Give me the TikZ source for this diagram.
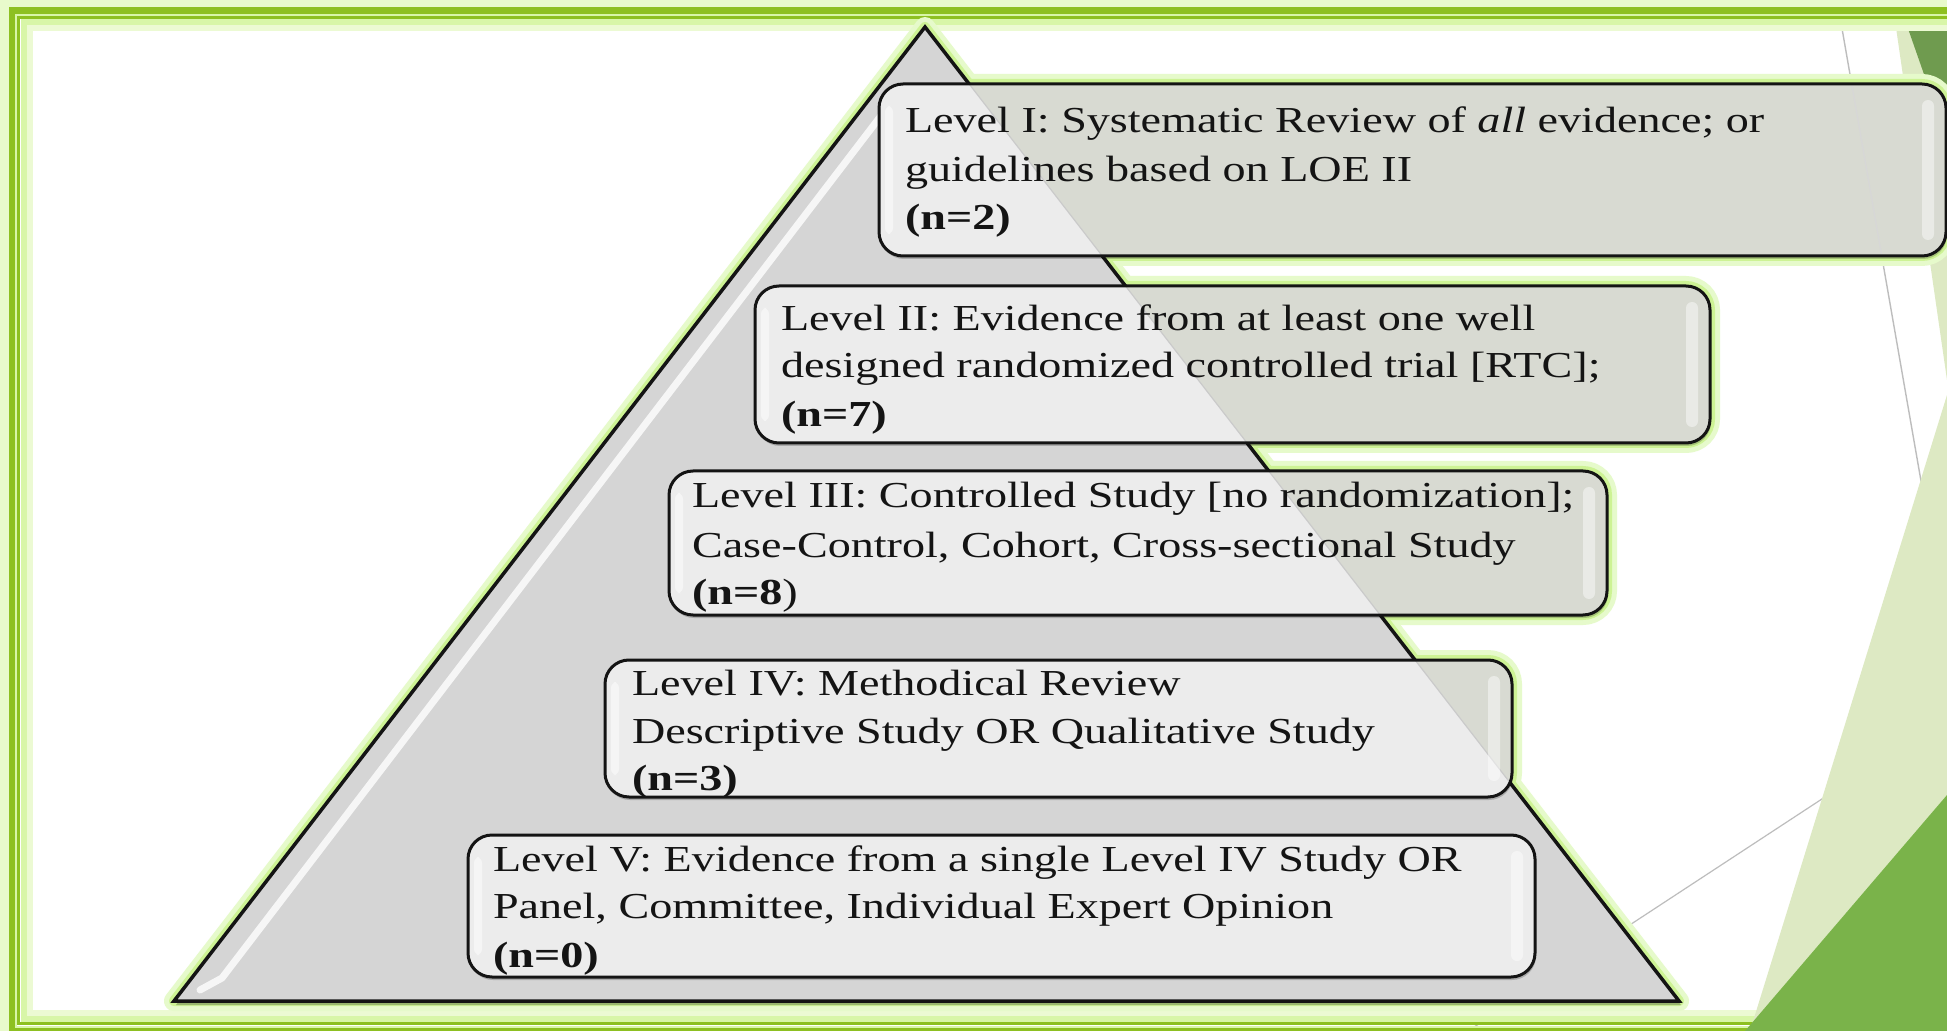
\documentclass[tikz,border=0pt]{standalone}
\usepackage{fontspec}
\setmainfont{Liberation Serif}[FakeStretch=1.26]
\usetikzlibrary{calc}
\definecolor{frameg}{HTML}{8DC021}
\definecolor{frameglow}{HTML}{D8F6A8}
\definecolor{glowlt}{HTML}{E6FACB}
\definecolor{glowmd}{HTML}{CDF394}
\definecolor{trifill}{HTML}{D5D5D5}
\definecolor{boxlight}{HTML}{ECECEC}
\definecolor{boxdark}{HTML}{D8DAD2}
\definecolor{declight}{HTML}{DDE9C3}
\definecolor{decdark}{HTML}{6F9B4F}
\definecolor{decgreen}{HTML}{7AB34A}
\definecolor{thingray}{HTML}{BDBDBD}
\definecolor{inktext}{HTML}{141414}
\begin{document}
\begin{tikzpicture}[x=0.5pt,y=-0.5pt,
  glowA/.style={draw=glowlt, line width=10pt, line join=round},
  glowB/.style={draw=glowmd, line width=5pt, line join=round},
  boxline/.style={draw=inktext, line width=1.5pt},
  rbox/.style={rounded corners=12pt},
  txt/.style={anchor=base west, inner sep=0pt, outer sep=0pt, text=inktext, font=\fontsize{18.3pt}{24pt}\selectfont},
  thin/.style={draw=thingray, line width=0.7pt}]
\useasboundingbox (0,0) rectangle (1947,1031);
% named points
\coordinate (apex) at (925,27);
\coordinate (br) at (1679,1001);
\coordinate (bl) at (174,1001);
\coordinate (l1a) at (1837,0);
\coordinate (l1b) at (1947,630);
\coordinate (l2a) at (1468,1031);
\coordinate (l2b) at (1947,717);
\coordinate (s0) at (200,990);
\coordinate (s1) at (222,978);
\coordinate (s2) at (893,100);
\coordinate (b1-nw) at (879,84);   \coordinate (b1-se) at (1946,256);
\coordinate (b2-nw) at (755,286);  \coordinate (b2-se) at (1710,443);
\coordinate (b3-nw) at (669,471);  \coordinate (b3-se) at (1607,615);
\coordinate (b4-nw) at (605,660);  \coordinate (b4-se) at (1512,797);
\coordinate (b5-nw) at (468,835);  \coordinate (b5-se) at (1535,977);
\begin{scope}
\clip (0,0) rectangle (1947,1031);
\fill[white] (0,0) rectangle (1947,1031);
% theme decoration (top right)
\fill[declight] (1892,0) -- (1947,0) -- (1947,380) -- cycle;
\fill[decdark] (1898,0) -- (1947,0) -- (1947,140) -- cycle;
\draw[thin] (l1a) -- (l1b);
\draw[thin, line width=0.6pt] (l2a) -- (l2b);
% frame
\draw[frameglow!60, line width=8pt] (2000,4) -- (4,4) -- (4,1040);
\draw[frameg, line width=3.5pt] (2000,10.5) -- (12,10.5) -- (12,1030) -- (2000,1030);
\draw[frameglow, line width=1pt] (2000,15) -- (16,15) -- (16,1026.5) -- (2000,1026.5);
\draw[frameg, line width=1.6pt] (2000,17.7) -- (18.5,17.7) -- (18.5,1023.5) -- (2000,1023.5);
\draw[frameglow, line width=3pt] (2000,22.5) -- (23.5,22.5) -- (23.5,1018.5) -- (2000,1018.5);
\draw[frameglow!50, line width=3pt] (2000,28.5) -- (29.5,28.5) -- (29.5,1012.5) -- (2000,1012.5);
% theme decoration (bottom right)
\fill[declight] (1947,395) -- (1750,1031) -- (1947,1031) -- cycle;
\fill[decgreen] (1947,795) -- (1947,1031) -- (1745,1031) -- cycle;
\end{scope}
% glow around the group
\draw[glowA] (apex) -- (br) -- (bl) -- cycle;
\foreach \b in {b1,b2,b3,b4,b5} {\draw[glowA, rbox] (\b-nw) rectangle (\b-se);}
\draw[glowB] (apex) -- (br) -- (bl) -- cycle;
\foreach \b in {b1,b2,b3,b4,b5} {\draw[glowB, rbox] (\b-nw) rectangle (\b-se);}
% pyramid
\fill[black, opacity=0.25] ([shift={(2,4)}]apex) -- ([shift={(2,4)}]br) -- ([shift={(2,4)}]bl) -- cycle;
\fill[trifill] (apex) -- (br) -- (bl) -- cycle;
\draw[white, opacity=0.8, line width=3.5pt, line cap=round, line join=round] (s0) -- (s1) -- (s2);
\draw[inktext, line width=1.75pt, line join=miter] (apex) -- (br) -- (bl) -- cycle;
% boxes
\foreach \b in {b1,b2,b3,b4,b5} {
  \fill[black, opacity=0.2, rbox] ([shift={(1,3)}]\b-nw) rectangle ([shift={(1,3)}]\b-se);
  \fill[boxdark, rbox] (\b-nw) rectangle (\b-se);
  \begin{scope}
    \clip[rbox] (\b-nw) rectangle (\b-se);
    \fill[boxlight] (apex) -- (br) -- (bl) -- cycle;
    \draw[thingray!80, line width=0.6pt] (apex) -- (br);
    \draw[thingray!60, line width=0.6pt] (l1a) -- (l1b);
  \end{scope}
  \fill[white, opacity=0.45, rounded corners=3pt] ($(\b-nw -| \b-se)+(-24,16)$) rectangle ($(\b-se)+(-12,-16)$);
  \fill[white, opacity=0.5, rounded corners=3pt] ($(\b-nw)+(6,22)$) rectangle ($(\b-nw |- \b-se)+(14,-22)$);
  \draw[boxline, rbox] (\b-nw) rectangle (\b-se);
}
% texts
\node[txt] (t1a) at (905,133) {Level I: Systematic Review of \textit{all} evidence; or};
\node[txt] (t1b) at (905,182) {guidelines based on LOE II};
\node[txt] (t1c) at (905,230) {\textbf{(n=2)}};
\node[txt] (t2a) at (781,331) {Level II: Evidence from at least one well};
\node[txt] (t2b) at (781,378) {designed randomized controlled trial [RTC];};
\node[txt] (t2c) at (781,427) {\textbf{(n=7)}};
\node[txt] (t3a) at (692,508) {Level III: Controlled Study [no randomization];};
\node[txt] (t3b) at (692,557) {Case-Control, Cohort, Cross-sectional Study};
\node[txt] (t3c) at (692,604) {\textbf{(n=8}){}};
\node[txt] (t4a) at (632,695) {Level IV: Methodical Review};
\node[txt] (t4b) at (632,743) {Descriptive Study OR Qualitative Study};
\node[txt] (t4c) at (632,790) {\textbf{(n=3)}};
\node[txt] (t5a) at (493,871) {Level V: Evidence from a single Level IV Study OR};
\node[txt] (t5b) at (493,918) {Panel, Committee, Individual Expert Opinion};
\node[txt] (t5c) at (493,967) {\textbf{(n=0)}};
\end{tikzpicture}
\end{document}
